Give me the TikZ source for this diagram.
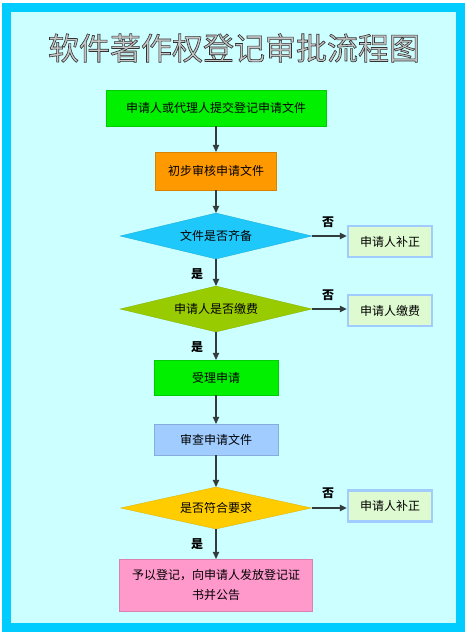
\documentclass[tikz,border=0pt]{standalone}
\usepackage{fontspec}
\setmainfont{Noto Sans CJK SC}
\usetikzlibrary{shapes.geometric,arrows.meta}
\definecolor{framecyan}{RGB}{0,204,255}
\definecolor{paper}{RGB}{204,255,255}
\definecolor{submitgreen}{RGB}{0,240,0}
\definecolor{checkorange}{RGB}{255,153,0}
\definecolor{filesblue}{RGB}{30,200,250}
\definecolor{feeolive}{RGB}{153,204,0}
\definecolor{reviewblue}{RGB}{160,204,255}
\definecolor{okgold}{RGB}{255,204,0}
\definecolor{grantpink}{RGB}{255,153,204}
\definecolor{sidefill}{RGB}{222,250,208}
\definecolor{sideedge}{RGB}{160,204,255}
\definecolor{linegray}{RGB}{50,60,60}

\begin{document}
\begin{tikzpicture}[x=1pt,y=-1pt,
    txt/.style={font=\fontsize{12}{20}\selectfont},
    box/.style={txt,draw=#1!85!black,line width=.3pt,fill=#1,inner sep=2pt},
    ask/.style={txt,diamond,shape aspect=4.2,inner sep=1pt,draw=#1!85!black,line width=.3pt,fill=#1},
    side/.style={txt,draw=sideedge,line width=2.5pt,fill=sidefill,minimum width=84,minimum height=31},
    lbl/.style={font=\fontsize{12}{14}\selectfont\bfseries},
    arr/.style={draw=linegray,line width=1.1pt,-{Triangle[length=7pt,width=6.5pt]}}]
  \fill[white] (0,0) rectangle (470,637);
  \useasboundingbox (0,0) rectangle (470,637);
  \fill[framecyan] (2,3) rectangle (465,632);
  \fill[paper] (11,12) rectangle (456,623);

  \node[font=\fontsize{31}{36}\selectfont] (title) at (234,48)
    {\color{gray!45}\special{pdf:literal direct 2 Tr 0.6 w 0.2 0.2 0.2 RG}软件著作权登记审批流程图\special{pdf:literal direct 0 Tr}};

  \node[box=submitgreen,minimum width=220,minimum height=36] (submit) at (216,108) {申请人或代理人提交登记申请文件};
  \node[box=checkorange,minimum width=121,minimum height=38] (check) at (216,171) {初步审核申请文件};
  \node[ask=filesblue,minimum width=192,minimum height=46] (files) at (216,236) {文件是否齐备};
  \node[ask=feeolive,minimum width=192,minimum height=46] (fee) at (216,309) {申请人是否缴费};
  \node[box=submitgreen,minimum width=124,minimum height=35] (accept) at (216,377.5) {受理申请};
  \node[box=reviewblue,minimum width=124,minimum height=31] (review) at (216,439.5) {审查申请文件};
  \node[ask=okgold,minimum width=191,minimum height=42] (ok) at (216,508) {是否符合要求};
  \node[box=grantpink,minimum width=193,minimum height=52,align=center] (grant) at (216,585)
    {予以登记，向申请人发放登记证\\书并公告};

  \node[side] (fix1) at (390,241.5) {申请人补正};
  \node[side] (pay) at (390,310.5) {申请人缴费};
  \node[side] (fix2) at (390,506) {申请人补正};

  \draw[arr] (submit) -- (check);
  \draw[arr] (check) -- (files);
  \draw[arr] (files) -- (fee);
  \draw[arr] (fee) -- (accept);
  \draw[arr] (accept) -- (review);
  \draw[arr] (review) -- (ok);
  \draw[arr] (ok) -- (grant);
  \draw[arr] (files.east) -- (fix1.west |- files.east);
  \draw[arr] (fee.east) -- (pay.west |- fee.east);
  \draw[arr] (ok.east) -- (fix2.west |- ok.east);

  \node[lbl] (no1) at (328,222) {否};
  \node[lbl] (no2) at (328,295) {否};
  \node[lbl] (no3) at (328,493) {否};
  \node[lbl] (yes1) at (197,274) {是};
  \node[lbl] (yes2) at (197,347) {是};
  \node[lbl] (yes3) at (197,544) {是};
\end{tikzpicture}
\end{document}
